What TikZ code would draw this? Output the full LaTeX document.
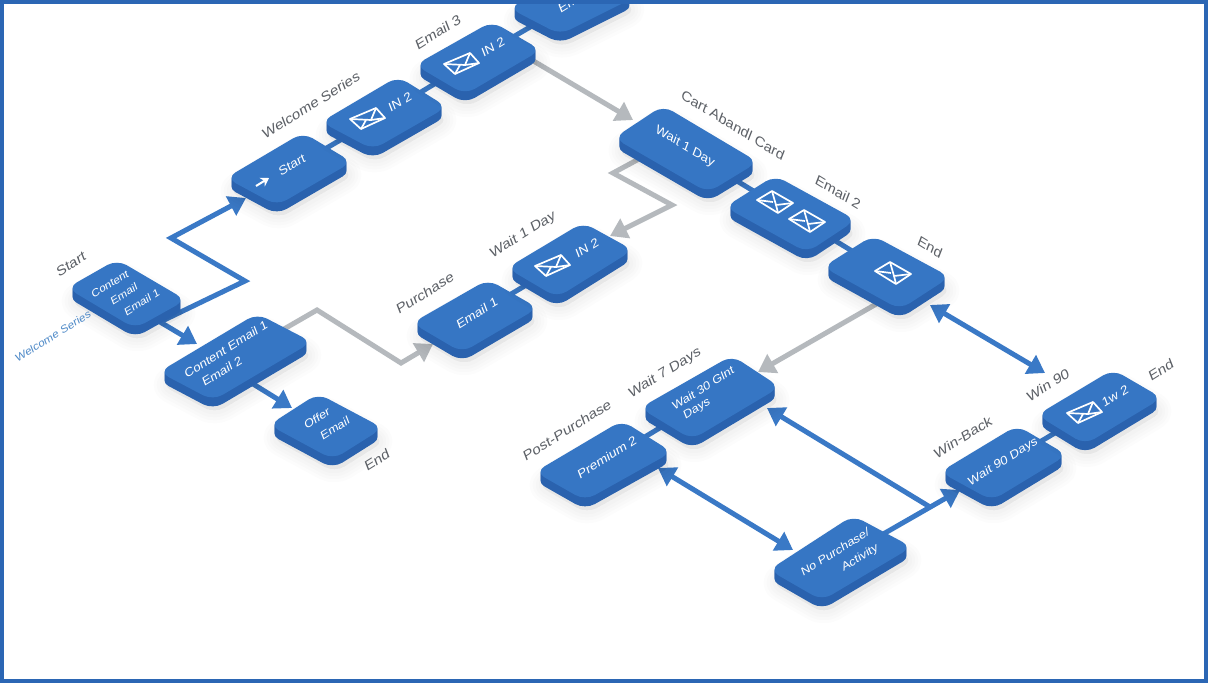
\documentclass[tikz,border=0pt]{standalone}
\usepackage{fontspec}
\setmainfont{Liberation Sans}
\usetikzlibrary{calc,arrows.meta}
\definecolor{tiletop}{HTML}{3676C4}
\definecolor{tileside}{HTML}{2A62AE}
\definecolor{framec}{HTML}{2B66B4}
\definecolor{linkb}{HTML}{3A79C6}
\definecolor{linkg}{HTML}{B5B9BD}
\definecolor{lblc}{HTML}{5C6066}
\definecolor{lblb}{HTML}{4F8AC8}
\pgfdeclarelayer{conn}
\pgfsetlayers{conn,main}
\tikzset{
  upT/.style={cm={.85,.53,-.32,.82,(0,0)}},
  dnT/.style={cm={.85,-.52,.32,.82,(0,0)}},
  lblU/.style={upT,text=lblc,font=\fontsize{15.5}{18}\selectfont},
  lblD/.style={dnT,text=lblc,font=\fontsize{15.5}{18}\selectfont},
  lblS/.style={upT,text=lblb,font=\fontsize{12}{14}\selectfont},
  tileU/.style={upT,text=white,inner sep=0pt,font=\fontsize{14}{17}\selectfont},
  tileD/.style={dnT,text=white,inner sep=0pt,font=\fontsize{14}{17}\selectfont},
  link/.style={draw=linkb,line width=5pt},
  flowb/.style={draw=linkb,line width=5pt,line join=miter,-{Triangle[length=17pt,width=21pt]}},
  flowbb/.style={draw=linkb,line width=5pt,{Triangle[length=17pt,width=21pt]}-{Triangle[length=17pt,width=21pt]}},
  flowg/.style={draw=linkg,line width=5pt,line join=miter,-{Triangle[length=17pt,width=21pt]}},
  envl/.style={draw=white,line width=1.7pt,line join=round},
}
% name, L, T, R, B of the top face
\newcommand{\tile}[5]{%
  \coordinate (#1-L) at ($(#2)+(-9,0)$);
  \coordinate (#1-T) at ($(#3)+(0,-2.5)$);
  \coordinate (#1-R) at ($(#4)+(9,0)$);
  \coordinate (#1-B) at ($(#5)+(0,2.5)$);
  \coordinate (#1) at ($(#1-L)!.5!(#1-R)$);
  \foreach \w in {26,20,14,8}{
    \filldraw[black,opacity=.012,line width=\w pt,line join=round,rounded corners=11pt]
      ($(#1-L)+(2,13)$) -- ($(#1-T)+(2,13)$) -- ($(#1-R)+(2,13)$) -- ($(#1-B)+(2,13)$) -- cycle;
  }
  \foreach \d in {9,8,...,1}{
    \fill[tileside,rounded corners=11pt]
      ($(#1-L)+(0,\d)$) -- ($(#1-T)+(0,\d)$) -- ($(#1-R)+(0,\d)$) -- ($(#1-B)+(0,\d)$) -- cycle;
  }
  \fill[tiletop,rounded corners=11pt] (#1-L) -- (#1-T) -- (#1-R) -- (#1-B) -- cycle;
}
\newcommand{\envU}[2]{%
  \begin{scope}[shift={(#1,#2)}]
    \draw[envl] (-18,1) -- (8,-10) -- (17,0) -- (-7,11) -- cycle;
    \draw[envl] (-18,1) -- (3,2) -- (8,-10);
    \draw[envl] (-7,11) -- (-2,2);
    \draw[envl] (17,0) -- (3,2);
  \end{scope}}
\newcommand{\envD}[2]{%
  \begin{scope}[shift={(#1,#2)}]
    \draw[envl] (-18,-2) -- (-3,-11) -- (18,1) -- (3,11) -- cycle;
    \draw[envl] (-3,-11) -- (1,3) -- (18,1);
    \draw[envl] (-18,-2) -- (-2,0);
    \draw[envl] (3,11) -- (1,3);
  \end{scope}}
\begin{document}
\begin{tikzpicture}[x=1pt,y=-1pt]
\useasboundingbox (0,0) rectangle (1208,683);
\begin{pgfonlayer}{conn}
  \fill[white] (0,0) rectangle (1208,683);
\end{pgfonlayer}
% tiles
\tile{ct}{76,288}{117,262}{177,300}{135,326}
\tile{ce}{168,372}{257,316}{303,342}{213,398}
\tile{of}{278,425}{318,396}{374,428}{333,457}
\tile{st}{235,178}{303,135}{343,162}{277,203}
\tile{wa}{330,122}{398,79}{438,107}{373,147}
\tile{eb}{424,65}{492,24}{532,50}{465,92}
\tile{ec}{518,8}{584,-30}{626,-3}{560,32}
\tile{wd}{623,138}{663,108}{749,162}{708,190}
\tile{tw}{734,207}{775,178}{847,220}{807,250}
\tile{en}{832,267}{873,238}{941,277}{900,307}
\tile{eo}{421,323}{488,282}{529,308}{462,350}
\tile{pm}{516,268}{583,225}{624,250}{557,295}
\tile{wt}{649,408}{732,358}{771,387}{692,437}
\tile{pr}{544,472}{622,423}{663,452}{585,498}
\tile{np}{778,570}{853,518}{903,547}{822,598}
\tile{wn}{949,472}{1017,428}{1058,455}{992,498}
\tile{wm}{1046,415}{1113,372}{1153,398}{1085,442}
% text on tiles
\node[tileU,font=\fontsize{12}{15}\selectfont] (ctT1) at (110,284) {Content};
\node[tileU,font=\fontsize{12}{15}\selectfont] (ctT2) at (124,294) {Email};
\node[tileU,font=\fontsize{12}{15}\selectfont] (ctT3) at (142,302) {Email 1};
\node[tileU,font=\fontsize{13.5}{15}\selectfont] (ceT1) at (226,349) {Content Email 1};
\node[tileU,font=\fontsize{13.5}{15}\selectfont] (ceT2) at (222,371) {Email 2};
\node[tileU,font=\fontsize{13}{15}\selectfont] (ofT1) at (317,418) {Offer};
\node[tileU,font=\fontsize{13}{15}\selectfont] (ofT2) at (335,428) {Email};
\node[tileU] (stT) at (292,165) {Start};
\node[tileU] (waT) at (400,102) {IN 2};
\node[tileU] (ebT) at (493,47) {IN 2};
\node[tileU] (ecT) at (574,0) {Email};
\node[tileD] (wdT) at (685,147) {Wait 1 Day};
\node[tileU] (eoT) at (477,313) {Email 1};
\node[tileU] (pmT) at (587,248) {IN 2};
\node[tileU,font=\fontsize{13}{15}\selectfont] (wtT1) at (703,388) {Wait 30 Glnt};
\node[tileU,font=\fontsize{13}{15}\selectfont] (wtT2) at (697,409) {Days};
\node[tileU] (prT) at (607,457) {Premium 2};
\node[tileU,font=\fontsize{13}{15}\selectfont] (npT1) at (835,552) {No Purchase/};
\node[tileU,font=\fontsize{13}{15}\selectfont] (npT2) at (860,558) {Activity};
\node[tileU,font=\fontsize{13.5}{16}\selectfont] (wnT) at (1003,462) {Wait 90 Days};
\node[tileU] (wmT) at (1115,396) {1w 2};
% icons
\coordinate (icA) at (256,186);
\coordinate (icB) at (269,178);
\draw[white,line width=2pt,-{Stealth[length=8pt,width=10pt]}] (icA) -- (icB);
\envU{368}{118}
\envU{462}{63}
\envU{553}{265}
\envU{1085}{412}
\envD{775}{202}
\envD{807}{221}
\envD{893}{273}
% outside labels
\node[lblU] (l1) at (71,264) {Start};
\node[lblS] (l2) at (53,336) {Welcome Series};
\node[lblU] (l3) at (311,105) {Welcome Series};
\node[lblU] (l4) at (438,32) {Email 3};
\node[lblU] (l5) at (425,293) {Purchase};
\node[lblU] (l6) at (523,235) {Wait 1 Day};
\node[lblD] (l7) at (733,125) {Cart Abandl Card};
\node[lblD] (l8) at (838,192) {Email 2};
\node[lblD] (l9) at (930,247) {End};
\node[lblU] (l10) at (567,430) {Post-Purchase};
\node[lblU] (l11) at (665,373) {Wait 7 Days};
\node[lblU] (l12) at (963,437) {Win-Back};
\node[lblU] (l13) at (1048,385) {Win 90};
\node[lblU] (l14) at (1161,370) {End};
\node[lblU] (l15) at (377,460) {End};
% connectors
\begin{pgfonlayer}{conn}
  \draw[link] (st) -- (wa);
  \draw[link] (wa) -- (eb);
  \draw[link] (eb) -- (ec);
  \draw[link] (wd) -- (tw);
  \draw[link] (tw) -- (en);
  \draw[link] (eo) -- (pm);
  \draw[link] (pr) -- (wt);
  \draw[link] (wn) -- (wm);
  % blue flows
  \coordinate (ctA) at (160,322);
  \coordinate (ctB) at (150,316);
  \coordinate (b1) at (245,281);
  \coordinate (b2) at (171,238);
  \coordinate (tSt) at (246,198);
  \coordinate (tCe) at (197,344);
  \coordinate (ceA) at (245,379);
  \coordinate (tOf) at (292,408);
  \draw[flowb] (ctA) -- (b1) -- (b2) -- (tSt);
  \draw[flowb] (ctB) -- (tCe);
  \draw[flowb] (ceA) -- (tOf);
  % grey flows
  \coordinate (g1) at (317,310);
  \coordinate (g2) at (401,363);
  \coordinate (tEo) at (433,344);
  \draw[flowg] (ce) -- (g1) -- (g2) -- (tEo);
  \coordinate (ebA) at (520,53);
  \coordinate (tWd) at (633,120);
  \draw[flowg] (ebA) -- (tWd);
  \coordinate (g3) at (613,173);
  \coordinate (g4) at (672,205);
  \coordinate (tPm) at (610,236);
  \coordinate (wdA) at (650,153);
  \draw[flowg] (wdA) -- (g3) -- (g4) -- (tPm);
  \coordinate (enA) at (885,299);
  \coordinate (tWt) at (758,372);
  \draw[flowg] (enA) -- (tWt);
  % double arrows
  \coordinate (tEn) at (930,305);
  \coordinate (tWm) at (1045,373);
  \draw[flowbb] (tEn) -- (tWm);
  \coordinate (tPr) at (658,468);
  \coordinate (tNp) at (793,550);
  \draw[flowbb] (tPr) -- (tNp);
  % no-purchase branch
  \coordinate (tWn) at (960,490);
  \coordinate (j1) at (930,507);
  \coordinate (tWt2) at (767,408);
  \draw[flowb] (np) -- (tWn);
  \draw[flowb] (j1) -- (tWt2);
\end{pgfonlayer}
% frame
\draw[framec,line width=4pt] (2,2) rectangle (1206,681);
\end{tikzpicture}
\end{document}
